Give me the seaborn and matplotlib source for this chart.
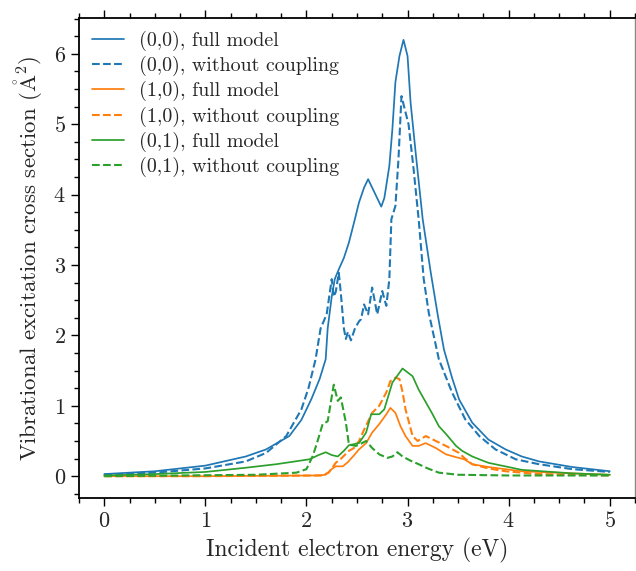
import numpy as np
import pandas as pd
import matplotlib
matplotlib.use("Agg")
import matplotlib.pyplot as plt
import seaborn as sns
from matplotlib.ticker import MultipleLocator

# (0,0) full model
e_00_full = [0.0, 0.5, 1.0, 1.4, 1.6, 1.83, 1.95, 2.05, 2.13, 2.19, 2.21, 2.25, 2.28, 2.32,
             2.37, 2.42, 2.47, 2.52, 2.57, 2.61, 2.65, 2.69, 2.74, 2.77, 2.79, 2.82, 2.85,
             2.88, 2.92, 2.96, 3.0, 3.03, 3.08, 3.15, 3.23, 3.3, 3.36, 3.44, 3.51, 3.64,
             3.8, 3.97, 4.13, 4.3, 4.63, 5.0]
s_00_full = [0.03, 0.07, 0.15, 0.28, 0.38, 0.57, 0.8, 1.1, 1.38, 1.66, 2.1, 2.55, 2.8, 2.94,
             3.1, 3.32, 3.6, 3.89, 4.1, 4.22, 4.1, 3.98, 3.83, 3.95, 4.13, 4.41, 4.93,
             5.6, 5.97, 6.2, 5.97, 5.31, 4.6, 3.65, 2.89, 2.28, 1.8, 1.4, 1.09, 0.76,
             0.52, 0.38, 0.28, 0.21, 0.13, 0.07]

# (0,0) without coupling
e_00_nc = [0.0, 0.5, 1.0, 1.4, 1.6, 1.8, 1.95, 2.02, 2.09, 2.14, 2.17, 2.2, 2.22, 2.25, 2.27,
           2.29, 2.32, 2.34, 2.37, 2.39, 2.41, 2.44, 2.48, 2.52, 2.54, 2.57, 2.61, 2.65,
           2.7, 2.75, 2.79, 2.82, 2.84, 2.88, 2.91, 2.94, 2.98, 3.01, 3.06, 3.11, 3.16,
           3.21, 3.31, 3.44, 3.57, 3.71, 3.87, 4.07, 4.3, 4.63, 5.0]
s_00_nc = [0.02, 0.05, 0.11, 0.21, 0.33, 0.57, 0.95, 1.25, 1.66, 2.1, 2.2, 2.3, 2.5, 2.8, 2.55,
           2.62, 2.89, 2.6, 2.1, 1.95, 2.05, 1.93, 2.1, 2.2, 2.23, 2.44, 2.3, 2.68,
           2.3, 2.63, 2.42, 2.8, 3.65, 3.84, 4.5, 5.4, 5.17, 5.0, 4.36, 3.65, 2.8,
           2.32, 1.66, 1.19, 0.81, 0.57, 0.38, 0.24, 0.17, 0.1, 0.06]

# (1,0) full model
e_10_full = [0.0, 1.0, 2.1, 2.19, 2.25, 2.29, 2.36, 2.41, 2.46, 2.52, 2.59, 2.65, 2.72, 2.79,
             2.83, 2.88, 2.93, 2.98, 3.05, 3.11, 3.18, 3.28, 3.38, 3.48, 3.56, 3.64, 3.8,
             4.13, 4.63, 5.0]
s_10_full = [0.0, 0.0, 0.01, 0.02, 0.1, 0.14, 0.14, 0.2, 0.28, 0.38, 0.47, 0.62, 0.74, 0.88,
             0.97, 0.9, 0.71, 0.57, 0.43, 0.43, 0.47, 0.4, 0.31, 0.27, 0.24, 0.17, 0.13,
             0.07, 0.04, 0.02]

# (1,0) without coupling
e_10_nc = [0.0, 1.0, 2.15, 2.22, 2.29, 2.35, 2.42, 2.47, 2.52, 2.57, 2.65, 2.72, 2.79, 2.83,
           2.88, 2.92, 2.95, 2.98, 3.05, 3.1, 3.18, 3.28, 3.38, 3.51, 3.56, 3.64, 3.8,
           3.97, 4.3, 5.0]
s_10_nc = [0.0, 0.0, 0.01, 0.05, 0.19, 0.26, 0.36, 0.4, 0.5, 0.66, 0.9, 1.0, 1.19, 1.35,
           1.4, 1.38, 1.2, 0.95, 0.57, 0.5, 0.57, 0.5, 0.43, 0.33, 0.26, 0.17, 0.11,
           0.07, 0.03, 0.01]

# (0,1) full model
e_01_full = [0.0, 0.5, 1.0, 1.4, 1.7, 2.03, 2.12, 2.19, 2.25, 2.31, 2.37, 2.42, 2.52, 2.59,
             2.64, 2.72, 2.77, 2.85, 2.95, 3.05, 3.11, 3.24, 3.31, 3.38, 3.48, 3.54, 3.64,
             3.71, 3.8, 4.13, 4.63, 5.0]
s_01_full = [0.01, 0.03, 0.06, 0.12, 0.17, 0.24, 0.3, 0.34, 0.3, 0.28, 0.36, 0.44, 0.47, 0.62,
             0.88, 0.88, 0.95, 1.33, 1.53, 1.42, 1.23, 0.9, 0.71, 0.6, 0.43, 0.36, 0.28,
             0.24, 0.19, 0.09, 0.04, 0.02]

# (0,1) without coupling
e_01_nc = [0.0, 0.75, 1.5, 1.9, 2.0, 2.06, 2.1, 2.16, 2.21, 2.24, 2.27, 2.31, 2.34, 2.39,
           2.42, 2.49, 2.55, 2.59, 2.65, 2.72, 2.8, 2.85, 2.9, 2.95, 3.03, 3.11, 3.2,
           3.31, 3.5, 4.0, 5.0]
s_01_nc = [0.0, 0.01, 0.02, 0.05, 0.1, 0.28, 0.45, 0.74, 0.78, 1.04, 1.3, 1.07, 1.12, 0.76,
           0.45, 0.43, 0.47, 0.5, 0.4, 0.31, 0.26, 0.28, 0.34, 0.28, 0.22, 0.17, 0.11,
           0.05, 0.02, 0.01, 0.01]

series = [
    ("(0,0), full model", e_00_full, s_00_full, 0, "-"),
    ("(0,0), without coupling", e_00_nc, s_00_nc, 0, "--"),
    ("(1,0), full model", e_10_full, s_10_full, 1, "-"),
    ("(1,0), without coupling", e_10_nc, s_10_nc, 1, "--"),
    ("(0,1), full model", e_01_full, s_01_full, 2, "-"),
    ("(0,1), without coupling", e_01_nc, s_01_nc, 2, "--"),
]

sns.set_theme(style="ticks")
plt.rcParams["font.family"] = ["cmr10"]
plt.rcParams["mathtext.fontset"] = "cm"
plt.rcParams["axes.unicode_minus"] = False
plt.rcParams["axes.formatter.use_mathtext"] = True

palette = sns.color_palette("tab10")

fig = plt.figure(figsize=(6.36, 5.71), dpi=100)
ax = fig.add_axes([79 / 636, 73 / 571, 556 / 636, 480 / 571])

for label, e, s, ci, ls in series:
    df = pd.DataFrame({"energy": e, "sigma": s})
    sns.lineplot(data=df, x="energy", y="sigma", ax=ax, color=palette[ci],
                 linestyle=ls, linewidth=1.25 if ls == "-" else 1.5, label=label)

ax.set_xlim(-0.25, 5.25)
ax.set_ylim(-0.31, 6.51)
ax.xaxis.set_major_locator(MultipleLocator(1))
ax.xaxis.set_minor_locator(MultipleLocator(0.25))
ax.yaxis.set_major_locator(MultipleLocator(1))
ax.yaxis.set_minor_locator(MultipleLocator(0.25))
ax.tick_params(which="both", direction="out", top=True, right=False, labelsize=16,
               width=1.0, color="black")
ax.tick_params(which="major", length=6)
ax.tick_params(which="minor", length=3.5)
for side in ["left", "bottom", "top"]:
    ax.spines[side].set_color("black")
    ax.spines[side].set_linewidth(1.3)
ax.spines["right"].set_color("#888888")
ax.spines["right"].set_linewidth(1.0)

ax.set_xlabel("Incident electron energy (eV)", fontsize=17, labelpad=5)
ax.set_ylabel(r"Vibrational excitation cross section ($\mathring{\mathrm{A}}^2$)",
              fontsize=16.5, labelpad=6)

ax.legend(loc="upper left", frameon=False, fontsize=14.4, handlelength=1.6,
          handletextpad=0.75, labelspacing=0.25, borderaxespad=0.25, borderpad=0.4)

fig.savefig("out.png", dpi=100)
